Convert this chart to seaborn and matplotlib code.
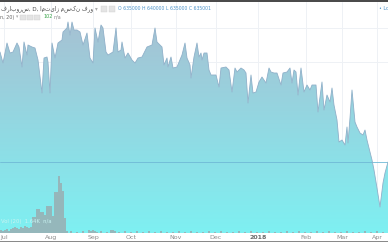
import numpy as np
import pandas as pd
import matplotlib
matplotlib.use("Agg")
import matplotlib.pyplot as plt
import seaborn as sns
from matplotlib.patches import PathPatch, Rectangle
from matplotlib.colors import to_rgb

# ---------------- data ----------------
session = [0, 3, 7, 10, 13, 17, 19, 22, 24, 27, 28, 32, 35, 38, 42, 44, 47, 48, 50, 52,
           55, 58, 62, 63, 67, 68, 70, 72, 74, 77, 80, 83, 87, 90, 93, 95, 98, 101, 103, 106,
           108, 113, 116, 118, 121, 122, 125, 128, 132, 135, 138, 142, 147, 152, 155, 157, 162, 164, 167, 168,
           171, 173, 177, 182, 185, 187, 190, 191, 194, 197, 199, 201, 202, 204, 207, 209, 211, 216, 219, 221,
           226, 229, 232, 235, 237, 241, 244, 246, 248, 251, 253, 256, 259, 262, 266, 269, 271, 274, 277, 281,
           283, 287, 290, 292, 294, 296, 298, 301, 304, 307, 310, 312, 316, 318, 322, 324, 327, 330, 332, 334,
           337, 339, 342, 345, 347, 348, 350, 352, 355, 357, 360, 363, 365, 367, 369, 372, 374, 377, 380, 383,
           385, 388]
close = [745000, 734000, 754000, 744000, 745000, 754000, 750000, 730000, 755000, 742000,
         752000, 750000, 749000, 737000, 704000, 739000, 740000, 735000, 704000, 754000,
         739000, 754000, 757000, 765000, 769000, 775000, 762000, 775000, 767000, 767000,
         765000, 752000, 764000, 739000, 734000, 769000, 755000, 772000, 769000, 745000,
         742000, 745000, 769000, 745000, 747000, 755000, 739000, 744000, 737000, 734000,
         739000, 740000, 750000, 752000, 769000, 755000, 750000, 732000, 739000, 730000,
         740000, 729000, 730000, 742000, 754000, 739000, 732000, 719000, 740000, 754000,
         740000, 744000, 737000, 744000, 744000, 727000, 722000, 722000, 710000, 729000,
         730000, 727000, 705000, 729000, 725000, 729000, 727000, 724000, 694000, 722000,
         704000, 705000, 715000, 720000, 714000, 729000, 725000, 724000, 724000, 712000,
         724000, 725000, 729000, 714000, 727000, 725000, 702000, 729000, 705000, 712000,
         707000, 712000, 712000, 685000, 715000, 687000, 702000, 695000, 709000, 692000,
         677000, 655000, 657000, 652000, 670000, 654000, 679000, 707000, 675000, 670000,
         664000, 662000, 667000, 657000, 649000, 637000, 627000, 609000, 590000, 614000,
         624000, 635000]
assert len(session) == len(close)

vol_session = [0, 2, 4, 6, 8, 10, 12, 14, 16, 18, 20, 22, 24, 26, 28, 30, 32, 34, 36, 38,
               40, 42, 44, 46, 48, 50, 52, 54, 56, 58, 60, 62, 64, 66,
               70, 76, 82, 88, 90, 92, 94, 96, 100, 106, 110, 112, 114, 118,
               124, 130, 136, 142, 148, 154, 160, 166, 172, 178, 184, 190, 196, 202,
               208, 214, 220, 226, 232, 238, 244, 250, 256, 262, 268, 274, 280, 286,
               292, 298, 304, 310, 316, 322, 328, 334, 340, 346, 352, 358, 364, 370, 376, 382]
volume = [3, 2, 3, 4, 2, 4, 5, 6, 5, 4, 6, 5, 7, 6, 5, 6, 16, 16, 24, 24,
          21, 21, 18, 27, 27, 27, 17, 41, 41, 57, 50, 42, 15, 2,
          2, 1, 2, 3, 2, 3, 2, 1, 2, 1, 3, 3, 2, 1,
          2, 1, 2, 1, 2, 1, 2, 1, 1, 2, 1, 2, 1, 1,
          2, 1, 2, 1, 1, 2, 1, 2, 1, 1, 2, 1, 1, 2,
          1, 2, 1, 1, 2, 1, 2, 1, 1, 2, 1, 1, 2, 1, 2, 1]
assert len(vol_session) == len(volume)

month_pos = [4, 51, 93, 131, 176, 216, 258, 306, 342, 377]
month_lbl = ["Jul", "Aug", "Sep", "Oct", "Nov", "Dec", "2018", "Feb", "Mar", "Apr"]

title = "فرابورس, D, امتیاز مسکن فرو"
ohlc = "O 635000 H 640000 L 635000 C 635001"
last_price = 635000

df = pd.DataFrame({"session": session, "close": close})
vdf = pd.DataFrame({"session": vol_session, "volume": volume})

# ---------------- figure ----------------
sns.set_theme(style="white")
plt.rcParams['font.family'] = ['DejaVu Sans']

W, H = 388, 242
fig = plt.figure(figsize=(W / 100, H / 100), dpi=100)
fig.patch.set_facecolor("#ffffff")
ax = fig.add_axes([0, 9 / H, 1, 231 / H])
ymin, ymax = 564000, 795000
ax.set_xlim(0, 388)
ax.set_ylim(ymin, ymax)

# grid
for p in month_pos:
    ax.axvline(p, color="#eef1f5", lw=0.7, zorder=0)
for yv in [769000, 735000]:
    ax.axhline(yv, color="#eef1f5", lw=0.7, zorder=0)

# gradient-filled area
poly = ax.fill_between(df["session"], df["close"], ymin, color="none", lw=0)
path = poly.get_paths()[0]
patch = PathPatch(path, transform=ax.transData, facecolor="none", edgecolor="none")
ax.add_patch(patch)
top_c = np.array(to_rgb("#aabdd0"))
bot_c = np.array(to_rgb("#7ef0f2"))
t = np.linspace(0, 1, 256)[:, None]
grad = (top_c[None, :] * (1 - t) + bot_c[None, :] * t)[:, None, :]
im = ax.imshow(grad, extent=[0, 388, ymin, ymax], aspect="auto", origin="upper", zorder=1)
im.set_clip_path(patch)

sns.lineplot(data=df, x="session", y="close", ax=ax, color="#8fb0c9", lw=0.6, zorder=3)

ax.axhline(last_price, color="#6fb9d6", lw=0.6, zorder=2)

# volume pane
vax = ax.twinx()
sns.histplot(data=vdf, x="session", weights="volume", binwidth=2, binrange=(0, 390),
             ax=vax, color="#97b4b8", alpha=0.95, element="bars", lw=0, zorder=4)
vax.set_ylim(0, 231)
vax.set_xlim(0, 388)
vax.set_ylabel("")
vax.set_yticks([])
for s in vax.spines.values():
    s.set_visible(False)

# axes styling
ax.set_xlabel("")
ax.set_ylabel("")
ax.set_yticks([])
ax.set_xticks(month_pos)
ax.set_xticklabels(month_lbl)
ax.tick_params(axis="x", length=0, pad=1.5, labelsize=4.5, labelcolor="#8c8c8c")
for lab in ax.get_xticklabels():
    if lab.get_text() == "2018":
        lab.set_fontweight("bold")
        lab.set_color("#6b6b6b")
for s in ax.spines.values():
    s.set_visible(False)

# frame lines
fig.add_artist(Rectangle((0, 1 - 1.6 / H), 1, 1.6 / H, transform=fig.transFigure,
                         color="#4b4b4b", lw=0))
fig.add_artist(Rectangle((0, 0), 1, 1.2 / H, transform=fig.transFigure,
                         color="#8a8a8a", lw=0))

def fx(px):
    return px / W

def fy(py):
    return 1 - py / H

renderer = fig.canvas.get_renderer()

def right_px(txt):
    return txt.get_window_extent(renderer=renderer).x1

# header line 1
t1 = fig.text(fx(1), fy(8.5), title, ha="left", va="center", fontsize=4.1, color="#4a4a4a",
              family=["DejaVu Sans"])
x_arrow = right_px(t1) + 2
fig.text(fx(x_arrow), fy(8.5), "▾", ha="left", va="center", fontsize=4, color="#aaaaaa")
bx0 = x_arrow + 6
for k in range(2):
    fig.add_artist(Rectangle((fx(bx0 + 8 * k), fy(12)), 6 / W, 6 / H, transform=fig.transFigure,
                             facecolor="#e4e4e4", edgecolor="#d0d0d0", lw=0.3))
fig.text(fx(max(bx0 + 17, 112)), fy(8.5), ohlc, ha="left", va="center", fontsize=3.3,
         color="#4d93c9")
fig.text(fx(379), fy(8.5), "• Lo", ha="left", va="center", fontsize=3.5, color="#4d93c9")

# header line 2
t2 = fig.text(fx(0.5), fy(17), "n, 20)", ha="left", va="center", fontsize=3.5,
              color="#666666")
x2 = right_px(t2) + 1.5
fig.text(fx(x2), fy(17), "▾", ha="left", va="center", fontsize=3.3, color="#aaaaaa")
for bx in [20, 27, 34]:
    fig.add_artist(Rectangle((fx(bx), fy(20)), 5.5 / W, 5.5 / H, transform=fig.transFigure,
                             facecolor="#e4e4e4", edgecolor="#d0d0d0", lw=0.3))
t3 = fig.text(fx(43), fy(17), "102", ha="left", va="center", fontsize=3.5, color="#3aa64a")
fig.text(fx(right_px(t3) + 1.5), fy(17), "n/a", ha="left", va="center", fontsize=3.5,
         color="#888888")

# volume label inside pane
fig.text(fx(1), fy(222), "Vol (20)  1.64K  n/a", ha="left", va="center", fontsize=3.8,
         color="#c9f3f2")

fig.savefig("out.png", dpi=100)
